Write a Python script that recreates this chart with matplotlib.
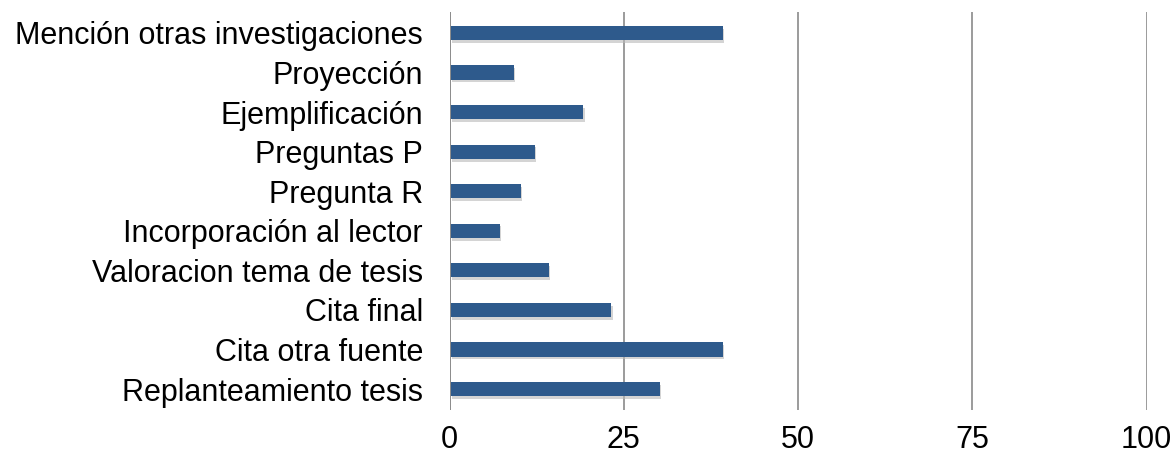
import matplotlib.pyplot as plt
import matplotlib.patheffects as pe

categorias = ["Mención otras investigaciones", "Proyección", "Ejemplificación",
              "Preguntas P", "Pregunta R", "Incorporación al lector",
              "Valoracion tema de tesis", "Cita final", "Cita otra fuente",
              "Replanteamiento tesis"]
valores = [39, 9, 19, 12, 10, 7, 14, 23, 39, 30]
ticks_x = [0, 25, 50, 75, 100]

plt.rcParams['font.family'] = ['Liberation Sans', 'DejaVu Sans']

fig = plt.figure(figsize=(11.76, 4.55), dpi=100)
ax = fig.add_axes([449.5 / 1176, 1 - 410 / 455, (1146.7 - 449.5) / 1176, 398 / 455])

pos = list(range(len(categorias)))[::-1]
barras = ax.barh(pos, valores, height=0.36, left=0.2, color="#2e5a8c", zorder=3)
for b in barras:
    b.set_path_effects([pe.SimplePatchShadow(offset=(1, -2), shadow_rgbFace="#b8b8b8", alpha=0.6),
                        pe.Normal()])

ax.set_xlim(0, 100)
ax.set_ylim(-0.53, 9.53)
ax.set_xticks(ticks_x)
ax.set_xticklabels([str(t) for t in ticks_x], fontsize=22)
ax.set_yticks(pos)
ax.set_yticklabels(categorias, fontsize=22)
ax.tick_params(length=0, pad=11, axis="x")
ax.tick_params(length=0, pad=19, axis="y")
for s in ax.spines.values():
    s.set_visible(False)
ax.xaxis.grid(True, color="#8a8a8a", linewidth=1.2, zorder=0)
ax.axvline(0, color="#8a8a8a", linewidth=1.2, zorder=1)

fig.savefig("out.png", dpi=100)
